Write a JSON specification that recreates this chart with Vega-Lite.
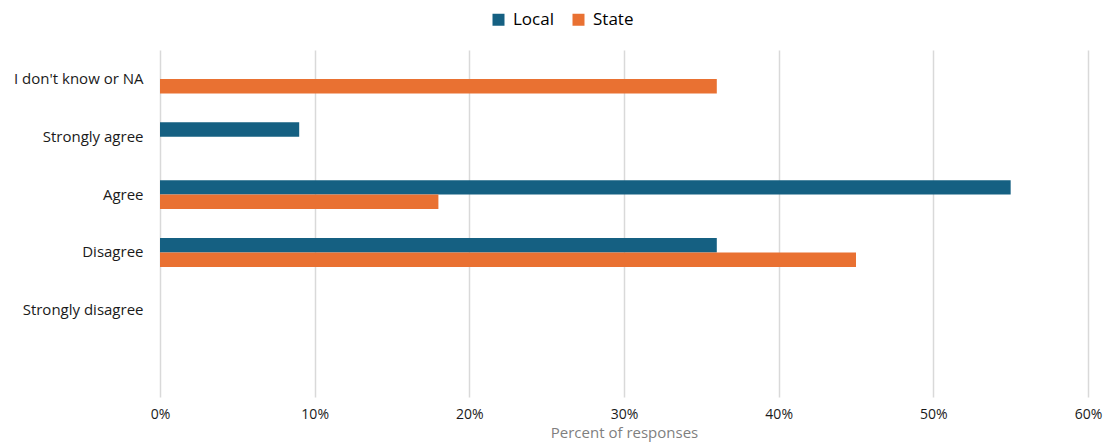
{
  "$schema": "https://vega.github.io/schema/vega-lite/v6.json",
  "autosize": "none",
  "width": 928,
  "height": 347,
  "padding": {"left": 160, "top": 50, "right": 20, "bottom": 49},
  "background": "white",
  "config": {
    "view": {"stroke": null},
    "font": "Open Sans"
  },
  "data": {
    "values": [
      {"response": "I don't know or NA", "level": "Local", "percent": 0},
      {"response": "I don't know or NA", "level": "State", "percent": 36},
      {"response": "Strongly agree", "level": "Local", "percent": 9},
      {"response": "Strongly agree", "level": "State", "percent": 0},
      {"response": "Agree", "level": "Local", "percent": 55},
      {"response": "Agree", "level": "State", "percent": 18},
      {"response": "Disagree", "level": "Local", "percent": 36},
      {"response": "Disagree", "level": "State", "percent": 45},
      {"response": "Strongly disagree", "level": "Local", "percent": 0},
      {"response": "Strongly disagree", "level": "State", "percent": 0}
    ]
  },
  "mark": {"type": "bar"},
  "encoding": {
    "y": {
      "field": "response",
      "type": "nominal",
      "scale": {
        "domain": ["I don't know or NA", "Strongly agree", "Agree", "Disagree", "Strongly disagree", " "],
        "paddingInner": 0.5,
        "paddingOuter": 0.25
      },
      "axis": {
        "title": null,
        "domain": false,
        "ticks": false,
        "grid": false,
        "labelPadding": 17,
        "labelFontSize": 15,
        "labelColor": "#1a1a1a",
        "labelFont": "Open Sans"
      }
    },
    "yOffset": {
      "field": "level",
      "type": "nominal",
      "scale": {"domain": ["Local", "State"], "paddingInner": 0, "paddingOuter": 0}
    },
    "x": {
      "field": "percent",
      "type": "quantitative",
      "scale": {"domain": [0, 60], "nice": false},
      "axis": {
        "values": [0, 10, 20, 30, 40, 50, 60],
        "labelExpr": "datum.value + '%'",
        "labelFlush": false,
        "title": "Percent of responses",
        "titleFont": "Open Sans",
        "titleFontSize": 15,
        "titleFontWeight": "normal",
        "titleColor": "#7F7F7F",
        "titlePadding": 4,
        "domain": false,
        "ticks": false,
        "grid": true,
        "gridColor": "#D9D9D9",
        "gridWidth": 1.5,
        "labelPadding": 10,
        "labelFontSize": 14,
        "labelFont": "Open Sans",
        "labelColor": "#1a1a1a"
      }
    },
    "color": {
      "field": "level",
      "type": "nominal",
      "scale": {"domain": ["Local", "State"], "range": ["#156082", "#E97132"]},
      "legend": {
        "title": null,
        "orient": "none",
        "direction": "horizontal",
        "legendX": 330,
        "legendY": -39,
        "symbolType": "square",
        "symbolSize": 144,
        "symbolStrokeWidth": 0,
        "labelFont": "Open Sans",
        "labelFontSize": 17,
        "labelColor": "#000000",
        "columnPadding": 16,
        "labelOffset": 6
      }
    }
  }
}
